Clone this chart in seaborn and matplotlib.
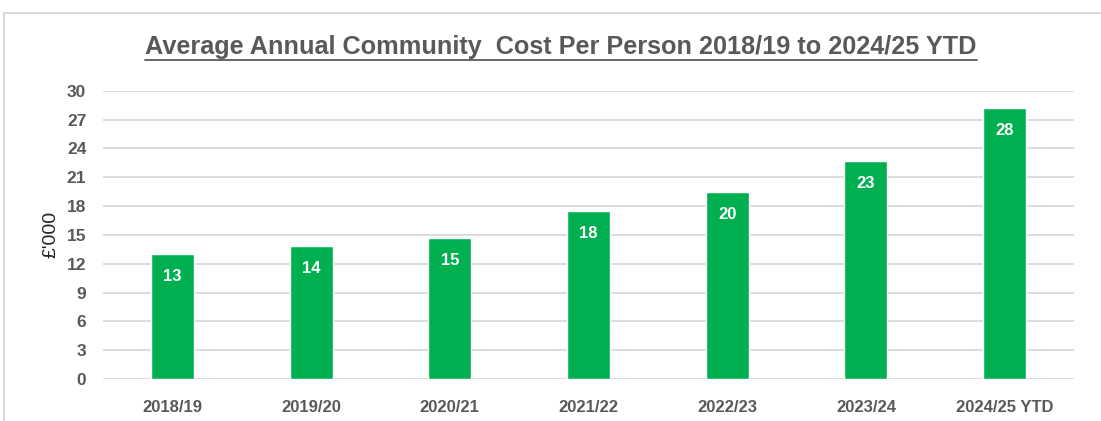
import matplotlib
matplotlib.use("Agg")
import matplotlib.pyplot as plt
import seaborn as sns
import pandas as pd
from matplotlib.patches import Rectangle
from matplotlib.lines import Line2D

categories = ["2018/19", "2019/20", "2020/21", "2021/22", "2022/23", "2023/24", "2024/25 YTD"]
values = [13.0, 13.85, 14.65, 17.45, 19.45, 22.65, 28.2]
labels = ["13", "14", "15", "18", "20", "23", "28"]
yticks = [0, 3, 6, 9, 12, 15, 18, 21, 24, 27, 30]

sns.set_theme(style="white")
plt.rcParams['font.family'] = ['Liberation Sans', 'DejaVu Sans']

W, H = 1101, 421
fig = plt.figure(figsize=(W / 100, H / 100), dpi=100)
ax = fig.add_axes([103 / W, 1 - 379 / H, (1074 - 103) / W, (379 - 90.7) / H])

df = pd.DataFrame({"cat": categories, "val": values})
sns.barplot(data=df, x="cat", y="val", color="#00B050", saturation=1, width=0.31, ax=ax)

ax.set_ylim(0, 30)
ax.set_yticks(yticks)
ax.set_xlim(-0.5, len(categories) - 0.5)
ax.yaxis.grid(True, color="#d9d9d9", lw=1.3)
ax.set_axisbelow(True)
for s in ax.spines.values():
    s.set_visible(False)
ax.tick_params(axis="both", length=0)
ax.tick_params(axis="y", pad=12)
ax.tick_params(axis="x", pad=15)
for t in ax.get_yticklabels():
    t.set_fontsize(12.5)
    t.set_fontweight("bold")
    t.set_color("#595959")
for t in ax.get_xticklabels():
    t.set_fontsize(12)
    t.set_fontweight("bold")
    t.set_color("#595959")
ax.set_xlabel("")
ax.set_ylabel("£'000", fontsize=14, color="#222222", labelpad=5)

for i, (v, lab) in enumerate(zip(values, labels)):
    ax.text(i, v - 2.3, lab, ha="center", va="center", color="white",
            fontsize=12, fontweight="bold")

# outer border
fig.patches.append(Rectangle((4 / W, -0.05), 1.2, 1 - 12.5 / H + 0.05, transform=fig.transFigure,
                             fill=False, edgecolor="#d9d9d9", lw=1.5))

title = fig.text(561 / W, 1 - 47 / H, "Average Annual Community  Cost Per Person 2018/19 to 2024/25 YTD",
                 ha="center", va="center", fontsize=18.2, fontweight="bold", color="#595959")
fig.canvas.draw()
bb = title.get_window_extent(renderer=fig.canvas.get_renderer())
uy = bb.y0 - 1
fig.lines.append(Line2D([bb.x0 / W, bb.x1 / W], [uy / H, uy / H], transform=fig.transFigure,
                        color="#595959", lw=1.3))

fig.savefig("out.png", dpi=100)
